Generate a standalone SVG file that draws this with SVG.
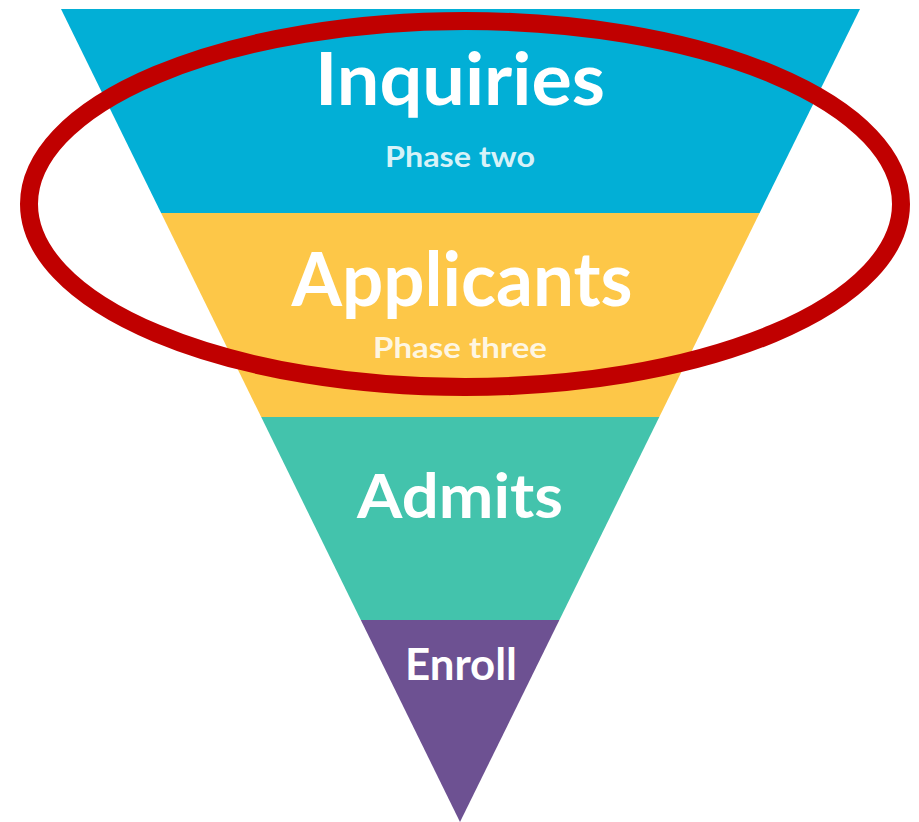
<svg xmlns="http://www.w3.org/2000/svg" width="919" height="822" viewBox="0 0 919 822">
  <style>
    .title { font-family: Lato, "Open Sans", "Liberation Sans", sans-serif; font-weight: bold; fill: #ffffff; text-anchor: middle; }
    .sub { font-family: Lato, "Open Sans", "Liberation Sans", sans-serif; font-weight: bold; fill: #ffffff; fill-opacity: 0.85; text-anchor: middle; }
  </style>
  <rect width="919" height="822" fill="#ffffff"/>
  <g id="inquiries">
    <polygon points="61,9 860,9 759.6,213 161.1,213" fill="#02AFD6"/>
    <text class="title" x="460" y="105" font-size="73" textLength="290" lengthAdjust="spacingAndGlyphs">Inquiries</text>
    <text class="sub" x="460" y="167" font-size="28" textLength="150" lengthAdjust="spacingAndGlyphs">Phase two</text>
  </g>
  <g id="applicants">
    <polygon points="161.1,213 759.6,213 659.3,417 261.2,417" fill="#FDC748"/>
    <text class="title" x="462" y="306" font-size="75" textLength="341" lengthAdjust="spacingAndGlyphs">Applicants</text>
    <text class="sub" x="460" y="358" font-size="29" textLength="174" lengthAdjust="spacingAndGlyphs">Phase three</text>
  </g>
  <g id="admits">
    <polygon points="261.2,417 659.3,417 559.4,620 360.8,620" fill="#43C3AC"/>
    <text class="title" x="460" y="518" font-size="62" textLength="206" lengthAdjust="spacingAndGlyphs">Admits</text>
  </g>
  <g id="enroll">
    <polygon points="360.8,620 559.4,620 460,822" fill="#6D5192"/>
    <text class="title" x="461" y="680" font-size="44" textLength="112" lengthAdjust="spacingAndGlyphs">Enroll</text>
  </g>
  <g id="highlight">
    <ellipse cx="465" cy="204" rx="436" ry="183" fill="none" stroke="#C00000" stroke-width="18"/>
  </g>
</svg>
